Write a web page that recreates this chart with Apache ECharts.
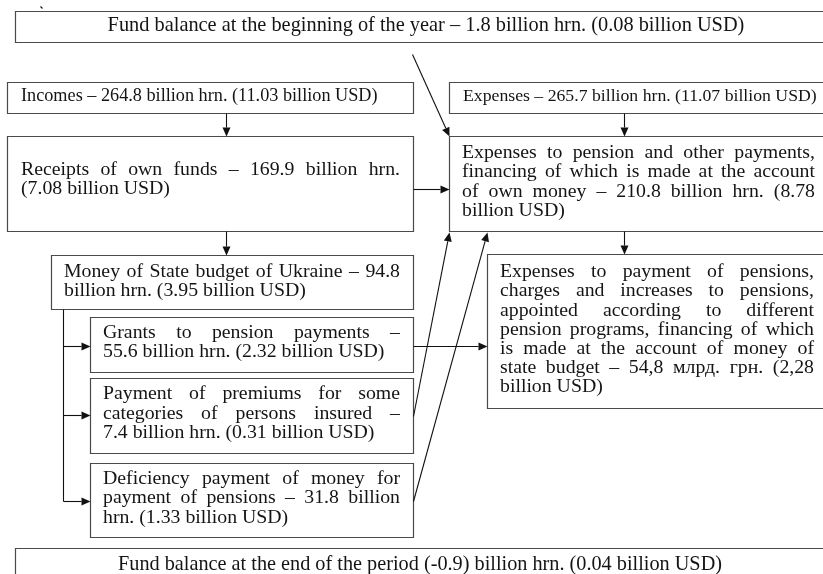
<!DOCTYPE html>
<html><head><meta charset="utf-8">
<script src="https://cdn.jsdelivr.net/npm/echarts@6/dist/echarts.min.js"></script>
<style>html,body{margin:0;padding:0;background:#fff}#c{width:823px;height:574px}</style>
</head><body><div id="c"></div>
<script>
// ---- data (texts of the flow chart) ----
const balanceStart = ['Fund balance at the beginning of the year – 1.8 billion hrn. (0.08 billion USD)'];
const incomes = ['Incomes – 264.8 billion hrn. (11.03 billion USD)'];
const expenses = ['Expenses – 265.7 billion hrn. (11.07 billion USD)'];
const ownReceipts = ['Receipts of own funds – 169.9 billion hrn.', '(7.08 billion USD)'];
const ownExpenses = ['Expenses to pension and other payments,', 'financing of which is made at the account', 'of own money – 210.8 billion hrn. (8.78', 'billion USD)'];
const stateBudget = ['Money of State budget of Ukraine – 94.8', 'billion hrn. (3.95 billion USD)'];
const grants = ['Grants to pension payments –', '55.6 billion hrn. (2.32 billion USD)'];
const premiums = ['Payment of premiums for some', 'categories of persons insured –', '7.4 billion hrn. (0.31 billion USD)'];
const deficiency = ['Deficiency payment of money for', 'payment of pensions – 31.8 billion', 'hrn. (1.33 billion USD)'];
const budgetExpenses = ['Expenses to payment of pensions,', 'charges and increases to pensions,', 'appointed according to different', 'pension programs, financing of which', 'is made at the account of money of', 'state budget – 54,8 млрд. грн. (2,28', 'billion USD)'];
const balanceEnd = ['Fund balance at the end of the period (-0.9) billion hrn. (0.04 billion USD)'];

// ---- layout ----
const FONT = '"Liberation Serif", "Times New Roman", serif';
const nodes = [
  {lines: balanceStart, box: [15, 11, 830, 31], mode: 'center', cx: 426, y0: 26, fit: 637},
  {lines: incomes, box: [7, 82, 406, 31], mode: 'left', left: 21, y0: 96, fit: 357},
  {lines: expenses, box: [449, 82, 380, 31], mode: 'left', left: 463, y0: 96, fit: 354},
  {lines: ownReceipts, box: [7, 136, 406, 95], mode: 'justify', left: 21, right: 400, y0: 170, lh: 19.2},
  {lines: ownExpenses, box: [449, 136, 380, 95], mode: 'justify', left: 462, right: 815, y0: 153, lh: 19.2},
  {lines: stateBudget, box: [51, 255, 362, 54], mode: 'justify', left: 64, right: 400, y0: 272, lh: 19.2},
  {lines: grants, box: [90, 317, 323, 55], mode: 'justify', left: 103, right: 400, y0: 333, lh: 19.2},
  {lines: premiums, box: [90, 378, 323, 75], mode: 'justify', left: 103, right: 400, y0: 394, lh: 19.4},
  {lines: deficiency, box: [90, 463, 323, 74], mode: 'justify', left: 103, right: 400, y0: 479, lh: 19.2},
  {lines: budgetExpenses, box: [487, 254, 340, 154], mode: 'justify', left: 500, right: 814, y0: 272, lh: 19.2},
  {lines: balanceEnd, box: [15, 548, 830, 40], mode: 'center', cx: 420, y0: 565, fit: 604}
];
const arrows = [
  [412, 54, 449, 136],
  [226, 113, 226, 136],
  [413, 189, 449, 189],
  [624, 113, 624, 136],
  [624, 231, 624, 254],
  [226, 231, 226, 255],
  [63, 346, 90, 346],
  [63, 415, 90, 415],
  [63, 501, 90, 501],
  [413, 346, 487, 346],
  [413, 416, 449, 232],
  [413, 501, 487, 232]
];
const plainLines = [
  [63, 309, 63, 501],
  [40, 6, 42, 8]
];

const FS = 19.8, MIN_GAP = 4;
const ctx = document.createElement('canvas').getContext('2d');
function mw(s, fs) { ctx.font = fs + 'px ' + FONT; return ctx.measureText(s).width; }
function txt(s, x, y, fs, align, sx) {
  return {type: 'text', x: x, y: y, z: 10, silent: true, scaleX: sx || 1,
    style: {text: s, font: fs + 'px ' + FONT, fill: '#141414', textAlign: align || 'left', textVerticalAlign: 'middle'}};
}
const els = [];
nodes.forEach(n => {
  const [x, y, w, h] = n.box;
  els.push({type: 'rect', z: 1, silent: true, shape: {x: x + 0.5, y: y + 0.5, width: w, height: h},
    style: {fill: '#fff', stroke: '#4a4a4a', lineWidth: 1.2}});
  if (n.mode === 'center' || n.mode === 'left') {
    const s = n.lines[0];
    const fs = 18 * n.fit / mw(s, 18);
    els.push(txt(s, n.mode === 'center' ? n.cx : n.left, n.y0, fs, n.mode === 'center' ? 'center' : 'left'));
  } else {
    const avail = n.right - n.left;
    n.lines.forEach((s, i) => {
      const y = n.y0 + i * n.lh;
      const last = i === n.lines.length - 1;
      const words = s.split(' ');
      let ws = words.map(wd => mw(wd, FS));
      const tot = ws.reduce((a, b) => a + b, 0);
      const spaceW = mw(' ', FS);
      let sx = 1, gap;
      if (last) {
        gap = spaceW;
        if (tot + gap * (words.length - 1) > avail) { sx = avail / (tot + gap * (words.length - 1)); }
      } else {
        gap = (avail - tot) / (words.length - 1);
        if (gap < MIN_GAP) { sx = avail / (tot + MIN_GAP * (words.length - 1)); gap = MIN_GAP * sx; }
      }
      let cx = n.left;
      words.forEach((wd, k) => { els.push(txt(wd, cx, y, FS, 'left', sx)); cx += ws[k] * sx + gap * (last ? sx : 1); });
    });
  }
});
function line(x1, y1, x2, y2) {
  return {type: 'line', z: 5, silent: true, shape: {x1: x1 + 0.5, y1: y1 + 0.5, x2: x2 + 0.5, y2: y2 + 0.5},
    style: {stroke: '#111', lineWidth: 1.1}};
}
plainLines.forEach(l => els.push(line(...l)));
arrows.forEach(([x1, y1, x2, y2]) => {
  const dx = x2 - x1, dy = y2 - y1, len = Math.hypot(dx, dy);
  const ux = dx / len, uy = dy / len, L = 9, W = 4;
  const bx = x2 - ux * L, by = y2 - uy * L;
  els.push(line(x1, y1, bx, by));
  els.push({type: 'polygon', z: 6, silent: true,
    shape: {points: [[x2 + 0.5, y2 + 0.5], [bx - uy * W + 0.5, by + ux * W + 0.5], [bx + uy * W + 0.5, by - ux * W + 0.5]]},
    style: {fill: '#111'}});
});

const chart = echarts.init(document.getElementById('c'), null, {renderer: 'canvas'});
chart.setOption({backgroundColor: '#fff', animation: false, graphic: {elements: els}});
</script>
</body></html>
